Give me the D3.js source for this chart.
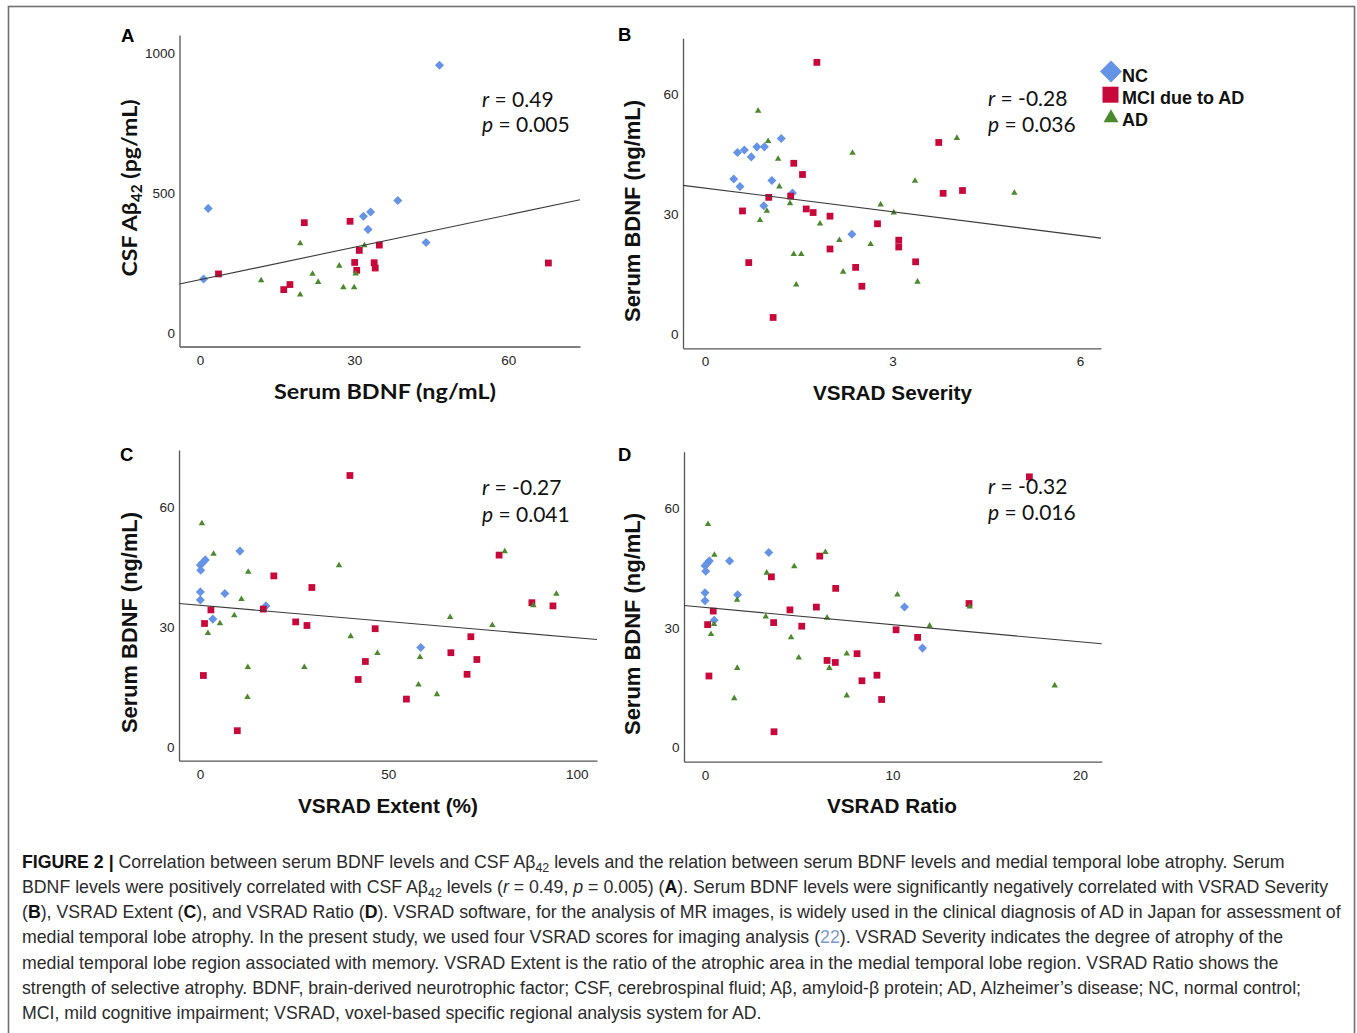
<!DOCTYPE html>
<html>
<head>
<meta charset="utf-8">
<script src="https://cdn.jsdelivr.net/npm/d3@7"></script>
<style>
  body { margin: 0; background: #fff; }
  svg { display: block; }
</style>
</head>
<body>
<div id="chart"></div>
<script>
// groups and colours
const groups = ['NC', 'MCI due to AD', 'AD'];
const groupColors = ['#6593e6', '#c8083a', '#4a8a2c'];

// A: serum BDNF (ng/mL) vs CSF Abeta42 (pg/mL)
const aNC = [[46.6, 956], [1.6, 445], [0.7, 193], [38.5, 473], [33.2, 432], [31.8, 417], [32.7, 370], [44.0, 323]];
const aMCI = [[3.6, 211], [20.3, 394], [29.2, 399], [16.3, 155], [17.5, 173], [31.0, 295], [30.1, 252],
  [30.5, 224], [34.9, 314], [33.9, 251], [34.1, 232], [67.8, 250]];
const aAD = [[19.5, 320], [11.9, 188], [19.5, 137], [21.9, 211], [23.0, 182], [27.1, 240], [27.9, 163],
  [30.0, 163], [30.3, 212], [32.0, 313]];
const aFit = [190.4, 3.86];            // intercept, slope
const aStats = ['0.49', '0.005'];
const aXTicks = [0, 30, 60];
const aYTicks = [0, 500, 1000];

// B: VSRAD Severity vs serum BDNF
const bNC = [[0.46, 38.8], [0.56, 36.9], [0.52, 45.4], [0.63, 46.0], [0.74, 44.3], [0.83, 46.8], [0.95, 46.8],
  [1.22, 48.9], [1.07, 38.4], [0.94, 32.1], [1.40, 35.3], [2.35, 25.0]];
const bMCI = [[1.79, 67.9], [1.42, 42.7], [1.56, 39.9], [1.02, 34.2], [1.37, 34.5], [0.60, 30.8], [1.62, 31.3],
  [1.73, 30.4], [2.00, 29.5], [2.76, 27.6], [3.10, 23.5], [3.10, 21.8], [2.00, 21.3], [3.37, 18.1],
  [2.41, 16.7], [2.51, 12.0], [0.70, 17.9], [1.09, 4.2], [3.74, 47.9], [3.81, 35.2], [4.12, 35.9]];
const bAD = [[0.85, 55.8], [1.01, 48.2], [1.17, 43.8], [1.19, 36.9], [2.36, 45.3], [1.36, 32.7], [0.99, 30.8],
  [0.88, 28.5], [1.84, 27.6], [2.81, 32.4], [3.02, 30.4], [3.36, 38.3], [4.03, 49.0], [4.95, 35.3],
  [2.15, 23.5], [2.65, 22.5], [1.42, 20.0], [1.54, 20.0], [2.21, 15.6], [1.46, 12.4], [3.40, 13.1]];
const bFit = [36.5, -1.97];
const bStats = ['-0.28', '0.036'];
const bXTicks = [0, 3, 6];

// C: VSRAD Extent (%) vs serum BDNF
const cNC = [[0.1, 45.4], [0.7, 46.0], [1.4, 46.7], [0.2, 44.1], [0.1, 38.7], [0.1, 36.7], [6.6, 38.3],
  [3.4, 31.9], [10.6, 48.9], [17.5, 35.2], [58.6, 24.8]];
const cMCI = [[39.8, 67.8], [19.6, 42.7], [29.7, 39.8], [16.8, 34.4], [2.9, 34.2], [1.2, 30.8], [25.4, 31.2],
  [28.4, 30.3], [46.5, 29.5], [71.9, 27.5], [66.6, 23.5], [73.5, 21.8], [43.9, 21.3], [70.9, 18.1],
  [42.0, 16.8], [54.8, 11.9], [0.9, 17.8], [9.9, 4.0], [79.4, 47.9], [88.1, 36.0], [93.7, 35.2]];
const cAD = [[0.5, 55.8], [3.6, 48.2], [12.8, 43.7], [11.0, 36.9], [36.9, 45.3], [9.1, 32.8], [5.3, 30.8],
  [2.1, 28.4], [40.0, 27.6], [66.4, 32.4], [77.6, 30.4], [94.6, 38.2], [80.9, 48.8], [88.5, 35.3],
  [47.1, 23.4], [58.4, 22.4], [12.7, 19.9], [27.7, 19.9], [58.0, 15.5], [12.6, 12.4], [62.9, 13.1]];
const cFit = [35.35, -0.0812];
const cStats = ['-0.27', '0.041'];
const cXTicks = [0, 50, 100];

// D: VSRAD Ratio vs serum BDNF
const dNC = [[0.0, 45.6], [0.12, 46.2], [0.23, 46.8], [0.04, 44.2], [0.0, 38.8], [0.0, 36.8], [1.74, 38.3],
  [1.31, 46.8], [0.49, 31.9], [3.40, 48.9], [10.64, 35.2], [11.6, 24.9]];
const dMCI = [[17.3, 67.9], [3.54, 42.8], [6.97, 39.9], [5.94, 35.2], [4.53, 34.5], [0.44, 34.2], [0.14, 30.8],
  [3.66, 31.3], [5.16, 30.4], [10.19, 29.5], [11.34, 27.6], [8.11, 23.5], [6.51, 21.8], [6.95, 21.3],
  [9.17, 18.1], [8.37, 16.7], [9.42, 12.0], [0.21, 17.9], [3.68, 3.9], [6.12, 48.0], [14.08, 36.1]];
const dAD = [[0.16, 56.0], [0.5, 48.3], [3.29, 43.8], [1.71, 37.0], [4.76, 45.4], [3.24, 32.8], [0.48, 30.9],
  [0.32, 28.4], [4.59, 27.6], [6.51, 32.5], [11.98, 30.5], [10.26, 38.3], [6.42, 49.0], [14.12, 35.3],
  [7.56, 23.5], [5.0, 22.5], [1.72, 19.9], [6.63, 19.9], [18.65, 15.5], [1.56, 12.3], [7.56, 13.0]];
const dFit = [35.1, -0.431];
const dStats = ['-0.32', '0.016'];
const dXTicks = [0, 10, 20];

const bdnfYTicks = [0, 30, 60];

const W = 1357, H = 1033;
const TICK_FONT = "'Liberation Sans', Arial, sans-serif";
const TITLE_FONT = "'Liberation Sans', Arial, sans-serif";
const CAL_FONT = "Lato, 'Open Sans', sans-serif";

const panels = [
  { key: 'A', labelPos: [121, 41.5], left: 179.5, right: 580, top: 35, bottom: 346.5,
    xAnchor: [[0, 200], [60, 508.3]], yAnchor: [[0, 333], [1000, 53]],
    xTicks: aXTicks, yTicks: aYTicks, series: [aNC, aMCI, aAD], fit: aFit, stats: aStats,
    statsPos: [482, 106.5, 132.3],
    xTitle: { parts: [['Serum BDNF (ng/mL)']], x: 385, y: 399, len: 222, font: CAL_FONT, size: 21 },
    yTitle: { parts: [['CSF A\u03b2'], ['42', 'sub'], [' (pg/mL)']], x: 137, y: 188, len: 177, font: CAL_FONT, size: 21.5 } },
  { key: 'B', labelPos: [618, 41], left: 683, right: 1101, top: 38.3, bottom: 348.3,
    xAnchor: [[0, 705], [6, 1080]], yAnchor: [[0, 334.3], [60, 94]],
    xTicks: bXTicks, yTicks: bdnfYTicks, series: [bNC, bMCI, bAD], fit: bFit, stats: bStats,
    statsPos: [988, 106, 132],
    xTitle: { parts: [['VSRAD Severity']], x: 892.5, y: 400, len: 159, font: TITLE_FONT, size: 21 },
    yTitle: { parts: [['Serum BDNF (ng/mL)']], x: 640, y: 211, len: 222, font: TITLE_FONT, size: 22 } },
  { key: 'C', labelPos: [120, 461], left: 179, right: 597, top: 450, bottom: 760.7,
    xAnchor: [[0, 200], [100, 576.7]], yAnchor: [[0, 746.7], [60, 506.7]],
    xTicks: cXTicks, yTicks: bdnfYTicks, series: [cNC, cMCI, cAD], fit: cFit, stats: cStats,
    statsPos: [482, 494.5, 521.5],
    xTitle: { parts: [['VSRAD Extent (%)']], x: 388, y: 813, len: 180, font: TITLE_FONT, size: 21 },
    yTitle: { parts: [['Serum BDNF (ng/mL)']], x: 137, y: 622.5, len: 221, font: TITLE_FONT, size: 22 } },
  { key: 'D', labelPos: [618, 461], left: 684, right: 1101.7, top: 451.7, bottom: 761.7,
    xAnchor: [[0, 705], [20, 1080]], yAnchor: [[0, 747.3], [60, 508.3]],
    xTicks: dXTicks, yTicks: bdnfYTicks, series: [dNC, dMCI, dAD], fit: dFit, stats: dStats,
    statsPos: [988, 493.5, 520],
    xTitle: { parts: [['VSRAD Ratio']], x: 892, y: 813, len: 130, font: TITLE_FONT, size: 21 },
    yTitle: { parts: [['Serum BDNF (ng/mL)']], x: 640, y: 624, len: 222, font: TITLE_FONT, size: 22 } }
];

const svg = d3.select('#chart').append('svg')
  .attr('width', W)
  .attr('height', H)
  .attr('viewBox', `0 0 ${W} ${H}`);

svg.append('rect').attr('width', W).attr('height', H).attr('fill', '#fff');
// figure frame
svg.append('rect')
  .attr('x', 8.5).attr('y', 6.5)
  .attr('width', 1346).attr('height', 1100)
  .attr('fill', 'none')
  .attr('stroke', '#707070')
  .attr('stroke-width', 1.6);

const symbolPath = [
  d3.symbol().type(d3.symbolSquare).size(41)(),
  d3.symbol().type(d3.symbolSquare).size(46)(),
  d3.symbol().type(d3.symbolTriangle).size(18)()
];

function addParts(text, parts, baseSize) {
  parts.forEach(([t, kind]) => {
    const ts = text.append('tspan').text(t);
    if (kind === 'sub') ts.attr('font-size', baseSize * 0.66).attr('dy', baseSize * 0.25);
    else if (text.node().childNodes.length > 1 && text.node().lastChild.previousSibling.getAttribute('dy')) {
      ts.attr('dy', -baseSize * 0.25);
    }
  });
}

panels.forEach((p) => {
  const xa = d3.scaleLinear().domain(p.xAnchor.map((d) => d[0])).range(p.xAnchor.map((d) => d[1]));
  const ya = d3.scaleLinear().domain(p.yAnchor.map((d) => d[0])).range(p.yAnchor.map((d) => d[1]));
  const x = d3.scaleLinear().domain([xa.invert(p.left), xa.invert(p.right)]).range([p.left, p.right]);
  const y = d3.scaleLinear().domain([ya.invert(p.bottom), ya.invert(p.top)]).range([p.bottom, p.top]);

  const g = svg.append('g');

  const styleAxis = (s) => {
    s.attr('font-family', null).attr('font-size', null);
    s.select('.domain').attr('stroke', '#555').attr('stroke-width', 1.3);
    s.selectAll('.tick line').remove();
    s.selectAll('.tick text')
      .attr('font-family', TICK_FONT)
      .attr('font-size', 13.5)
      .attr('fill', '#262626');
  };

  g.append('g')
    .attr('transform', `translate(0,${p.bottom})`)
    .call(d3.axisBottom(x).tickValues(p.xTicks).tickFormat(d3.format('d')).tickSize(0).tickSizeOuter(0).tickPadding(8.5))
    .call(styleAxis);

  g.append('g')
    .attr('transform', `translate(${p.left},0)`)
    .call(d3.axisLeft(y).tickValues(p.yTicks).tickFormat(d3.format('d')).tickSize(0).tickSizeOuter(0).tickPadding(4.5))
    .call(styleAxis);

  // points
  p.series.forEach((pts, i) => {
    g.append('g')
      .selectAll('path')
      .data(pts)
      .join('path')
      .attr('d', symbolPath[i])
      .attr('transform', (d) => `translate(${x(d[0])},${y(d[1])})${i === 0 ? ' rotate(45)' : ''}`)
      .attr('fill', groupColors[i]);
  });

  // fit line
  const xd = x.domain();
  g.append('line')
    .attr('x1', x(xd[0])).attr('y1', y(p.fit[0] + p.fit[1] * xd[0]))
    .attr('x2', x(xd[1])).attr('y2', y(p.fit[0] + p.fit[1] * xd[1]))
    .attr('stroke', '#3a3a3a')
    .attr('stroke-width', 1.1);

  // r / p
  const statLines = [['r', p.stats[0]], ['p', p.stats[1]]];
  statLines.forEach(([k, v], i) => {
    const t = g.append('text')
      .attr('x', p.statsPos[0])
      .attr('y', p.statsPos[1 + i])
      .attr('font-family', CAL_FONT)
      .attr('font-size', 21)
      .attr('fill', '#111');
    t.append('tspan').attr('font-style', 'italic').text(k);
    t.append('tspan').text(' = ' + v);
  });

  // titles
  const xt = g.append('text')
    .attr('x', p.xTitle.x).attr('y', p.xTitle.y)
    .attr('text-anchor', 'middle')
    .attr('font-family', p.xTitle.font)
    .attr('font-weight', 'bold')
    .attr('font-size', p.xTitle.size)
    .attr('fill', '#111')
    .attr('textLength', p.xTitle.len)
    .attr('lengthAdjust', 'spacingAndGlyphs');
  addParts(xt, p.xTitle.parts, p.xTitle.size);

  const yt = g.append('text')
    .attr('transform', `translate(${p.yTitle.x},${p.yTitle.y}) rotate(-90)`)
    .attr('text-anchor', 'middle')
    .attr('font-family', p.yTitle.font)
    .attr('font-weight', 'bold')
    .attr('font-size', p.yTitle.size)
    .attr('fill', '#111')
    .attr('textLength', p.yTitle.len)
    .attr('lengthAdjust', 'spacingAndGlyphs');
  addParts(yt, p.yTitle.parts, p.yTitle.size);

  // panel letter
  g.append('text')
    .attr('x', p.labelPos[0]).attr('y', p.labelPos[1])
    .attr('font-family', TICK_FONT)
    .attr('font-weight', 'bold')
    .attr('font-size', 18.5)
    .attr('fill', '#000')
    .text(p.key);
});

// legend (panel B)
const legendSym = [
  d3.symbol().type(d3.symbolSquare).size(240)(),
  d3.symbol().type(d3.symbolSquare).size(256)(),
  d3.symbol().type(d3.symbolTriangle).size(97)()
];
const legendPos = [[1111, 71.5, 81.5], [1110.5, 94.7, 104], [1111, 118, 126]];
const legend = svg.append('g');
groups.forEach((name, i) => {
  legend.append('path')
    .attr('d', legendSym[i])
    .attr('transform', `translate(${legendPos[i][0]},${legendPos[i][1]})${i === 0 ? ' rotate(45)' : ''}`)
    .attr('fill', groupColors[i]);
  legend.append('text')
    .attr('x', 1122).attr('y', legendPos[i][2])
    .attr('font-family', TITLE_FONT)
    .attr('font-weight', 'bold')
    .attr('font-size', 18)
    .attr('fill', '#111')
    .text(name);
});

// caption
const captionLines = [
  [['FIGURE 2 |', 'b'], [' Correlation between serum BDNF levels and CSF A\u03b2'], ['42', 'sub'],
    [' levels and the relation between serum BDNF levels and medial temporal lobe atrophy. Serum']],
  [['BDNF levels were positively correlated with CSF A\u03b2'], ['42', 'sub'], [' levels ('], ['r', 'i'],
    [' = 0.49, '], ['p', 'i'], [' = 0.005) ('], ['A', 'b'],
    ['). Serum BDNF levels were significantly negatively correlated with VSRAD Severity']],
  [['('], ['B', 'b'], ['), VSRAD Extent ('], ['C', 'b'], ['), and VSRAD Ratio ('], ['D', 'b'],
    ['). VSRAD software, for the analysis of MR images, is widely used in the clinical diagnosis of AD in Japan for assessment of']],
  [['medial temporal lobe atrophy. In the present study, we used four VSRAD scores for imaging analysis ('],
    ['22', 'link'], ['). VSRAD Severity indicates the degree of atrophy of the']],
  [['medial temporal lobe region associated with memory. VSRAD Extent is the ratio of the atrophic area in the medial temporal lobe region. VSRAD Ratio shows the']],
  [['strength of selective atrophy. BDNF, brain-derived neurotrophic factor; CSF, cerebrospinal fluid; A\u03b2, amyloid-\u03b2 protein; AD, Alzheimer\u2019s disease; NC, normal control;']],
  [['MCI, mild cognitive impairment; VSRAD, voxel-based specific regional analysis system for AD.']]
];

const CAP_FONT = "'Liberation Sans Narrow', 'Liberation Sans', Arial, sans-serif";
const capBase = 17;
const cap = svg.append('g')
  .attr('font-family', CAP_FONT)
  .attr('fill', '#2b2b2b');

const capTexts = captionLines.map((parts, i) => {
  const t = cap.append('text')
    .attr('x', 22)
    .attr('y', 868 + i * 25.15)
    .attr('font-size', capBase);
  let shifted = false;
  parts.forEach(([s, kind]) => {
    const ts = t.append('tspan').text(s);
    if (shifted) { ts.attr('dy', -capBase * 0.22); shifted = false; }
    if (kind === 'b') ts.attr('font-weight', 'bold').attr('fill', '#111');
    if (kind === 'i') ts.attr('font-style', 'italic');
    if (kind === 'link') ts.attr('fill', '#7b9bd0');
    if (kind === 'sub') { ts.attr('font-size', capBase * 0.7).attr('dy', capBase * 0.22); shifted = true; }
  });
  return t;
});

// fit the caption font so the widest line spans like the reference
const w3 = capTexts[2].node().getComputedTextLength();
const capSize = capBase * 1319 / w3;
capTexts.forEach((t) => {
  t.attr('font-size', capSize);
  t.selectAll('tspan').each(function () {
    const ts = d3.select(this);
    if (ts.attr('font-size')) ts.attr('font-size', capSize * 0.7);
    const dy = ts.attr('dy');
    if (dy) ts.attr('dy', Math.sign(+dy) * capSize * 0.22);
  });
});
</script>
</body>
</html>
